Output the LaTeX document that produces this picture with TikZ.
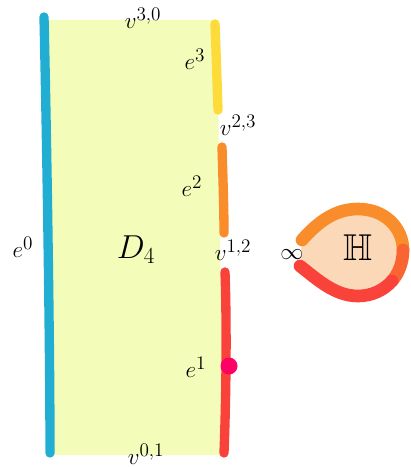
\documentclass[tikz,border=0pt]{standalone}
\usepackage{amssymb}
\definecolor{cblue}{HTML}{22AED3}
\definecolor{fillyellow}{HTML}{F3FCB9}
\definecolor{cyellow}{HTML}{FCDB3B}
\definecolor{corange}{HTML}{F98D2B}
\definecolor{cred}{HTML}{F9423A}
\definecolor{cpink}{HTML}{FF0066}
\definecolor{cpeach}{HTML}{FBD8B7}
\begin{document}
\begin{tikzpicture}[x=0.75pt,y=-0.75pt, line cap=round,
  lbl/.style={font=\fontsize{19}{22}\selectfont, inner sep=0pt},
  edgeline/.style={line width=7pt},
  blobline/.style={line width=9.5pt}]
\useasboundingbox (0,0) rectangle (410,467);
% face
\fill[fillyellow] (46,20) -- (217,20) -- (223,455) -- (50,455) -- cycle;
% edges
\draw[edgeline, cblue] (44,17) .. controls (47,150) and (50,350) .. (50,453);
\draw[edgeline, cyellow] (215,24) .. controls (216,50) and (217,80) .. (218,110);
\draw[edgeline, corange] (222,147) .. controls (223,180) and (224,210) .. (224,233);
\draw[edgeline, cred] (225,272) .. controls (227,330) and (226,400) .. (224,453);
\fill[cpink] (229,366) circle[radius=8.5];
% half-plane blob
\fill[cpeach] (302,240) .. controls (318,222) and (335,209) .. (358,209)
  .. controls (385,209) and (403,228) .. (403,250)
  .. controls (403,275) and (385,296) .. (358,296)
  .. controls (335,296) and (318,280) .. (300,266) -- cycle;
\draw[blobline, corange] (302,240) .. controls (318,222) and (335,209) .. (358,209)
  .. controls (385,209) and (403,228) .. (403,250);
\draw[blobline, corange!45!cred] (403,250) .. controls (403,262) and (399,273) .. (392,281);
\draw[blobline, cred] (392,281) .. controls (384,290) and (372,296) .. (358,296)
  .. controls (335,296) and (318,280) .. (300,266);
% labels
\node[lbl] (v30) at (143,18) {$v^{3,0}$};
\node[lbl] (e3) at (195,59) {$e^3$};
\node[lbl] (v23) at (238,125) {$v^{2,3}$};
\node[lbl] (e2) at (192,186) {$e^2$};
\node[lbl] (v12) at (233,250) {$v^{1,2}$};
\node[lbl] (e0) at (23,247) {$e^0$};
\node[lbl] (e1) at (196,367) {$e^1$};
\node[lbl] (v01) at (146,454) {$v^{0,1}$};
\node[font=\fontsize{26}{30}\selectfont, inner sep=0pt] (D4) at (136,250) {$D_4$};
\node[lbl] (inf) at (292,255) {$\infty$};
\node[font=\fontsize{28}{32}\selectfont, inner sep=0pt] (H) at (358,248) {$\mathbb{H}$};
\end{tikzpicture}
\end{document}
